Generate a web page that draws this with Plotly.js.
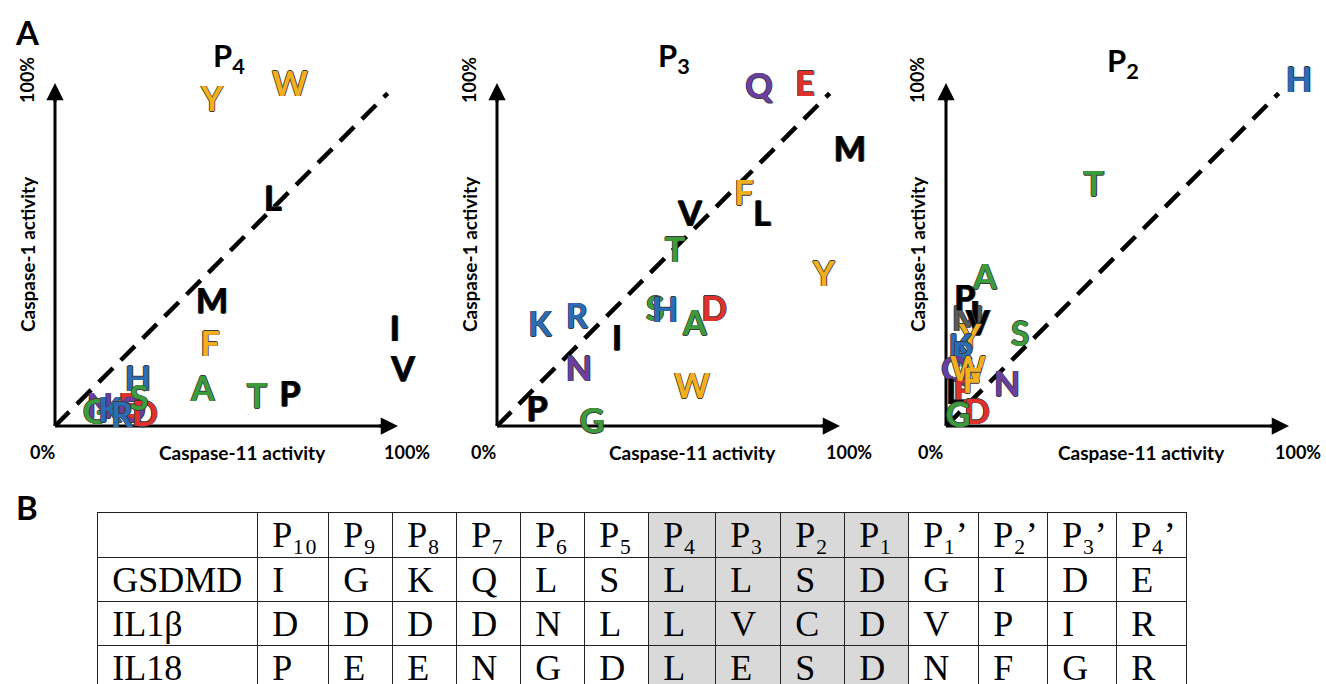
<!DOCTYPE html>
<html><head><meta charset="utf-8">
<script src="https://cdn.plot.ly/plotly-3.0.1.min.js"></script>
<style>html,body{margin:0;padding:0;background:#fff}</style>
</head><body><div id="chart" style="width:1326px;height:684px"></div>
<script>
// ---------- Panel A data (Caspase-11 activity %, Caspase-1 activity %) ----------
const p4Residues = ['Y','W','L','M','F','I','V','H','A','T','P','N','E','Q','G','K','R','D','S'];
const p4Casp11   = [45.8,68.5,63.5,45.8,45.2,99.1,101.5,24.2,43.1,58.9,68.5,13.1,21.3,22.4,11.7,16.0,19.5,26.2,24.5];
const p4Casp1    = [94.2,98.8,65.3,35.3,23.0,27.4,15.5,12.8,9.9,7.6,8.2,4.7,4.7,3.5,3.2,3.5,2.3,2.6,7.0];

const p3Residues = ['Q','E','M','F','L','V','T','Y','S','H','D','A','K','R','I','N','W','P','G'];
const p3Casp11   = [76.4,89.8,102.9,72.0,77.3,56.3,51.9,95.3,46.1,49.0,63.3,57.7,12.5,23.3,35.0,23.9,56.9,11.7,27.7];
const p3Casp1    = [98.0,98.8,79.6,66.8,60.9,60.9,50.4,43.4,33.2,32.9,33.2,28.9,28.6,30.9,24.5,15.7,10.5,3.8,0.3];

const p2Residues = ['H','T','A','M','P','I','V','S','Y','K','R','Q','E','W','F','L','N','D','G'];
const p2Casp11   = [102.9,43.1,11.4,6.4,5.5,8.5,9.3,21.6,7.0,4.1,5.0,2.6,5.0,6.4,7.6,2.6,17.8,9.0,3.5];
const p2Casp1    = [100.0,69.4,42.3,30.3,36.2,31.5,28.9,25.9,25.0,22.0,19.8,15.5,9.0,15.7,12.0,9.0,11.1,3.2,2.3];

const panelTitles = ['P<sub>4</sub>','P<sub>3</sub>','P<sub>2</sub>'];
const xAxisLabel = 'Caspase-11 activity';
const yAxisLabel = 'Caspase-1 activity';
const tickLow = '0%';
const tickHigh = '100%';

// ---------- Panel B data ----------
const rowNames = ['GSDMD','IL1β','IL18'];
const positionLabels = ['P₁₀','P₉','P₈','P₇','P₆','P₅','P₄','P₃','P₂','P₁','P₁’','P₂’','P₃’','P₄’'];
const gsdmdSeq = ['I','G','K','Q','L','S','L','L','S','D','G','I','D','E'];
const il1bSeq  = ['D','D','D','D','N','L','L','V','C','D','V','P','I','R'];
const il18Seq  = ['P','E','E','N','G','D','L','E','S','D','N','F','G','R'];
const highlighted = ['P₄','P₃','P₂','P₁'];

// ---------- styling ----------
const classColor = {
  F:'#f2b01e', W:'#f2b01e', Y:'#f2b01e',
  L:'#000000', M:'#000000', I:'#000000', V:'#000000', P:'#000000',
  A:'#3c9c3c', G:'#3c9c3c', S:'#3c9c3c', T:'#3c9c3c',
  H:'#2a6db5', K:'#2a6db5', R:'#2a6db5',
  D:'#e2312b', E:'#e2312b',
  N:'#6b3fa0', Q:'#6b3fa0'
};
const W = 1326, H = 684;
const px = v => v / W;
const py = v => 1 - v / H;
const scale = 3.43;                 // pixels per percent
const rng = [-5, 108];
const originX = [55, 497, 946], originY = 426;
const yDom = [py(originY - rng[0] * scale), py(originY - rng[1] * scale)];
const xDoms = originX.map(o => [px(o + rng[0] * scale), px(o + rng[1] * scale)]);
const sansFont = 'Lato, "Open Sans", "DejaVu Sans", sans-serif';
const serifFont = '"Liberation Serif", "Times New Roman", "DejaVu Serif", serif';
const outline = '0.8px 0 0 #3a3a3a, -0.8px 0 0 #3a3a3a, 0 0.8px 0 #3a3a3a, 0 -0.8px 0 #3a3a3a';

const panels = [
  {res: p4Residues, x: p4Casp11, y: p4Casp1},
  {res: p3Residues, x: p3Casp11, y: p3Casp1},
  {res: p2Residues, x: p2Casp11, y: p2Casp1, grey: {M: '#5a5a5a'}}
];

const traces = [];
const shapes = [];
const annotations = [];
const layout = {
  width: W, height: H, margin: {l:0, r:0, t:0, b:0},
  paper_bgcolor: '#fff', plot_bgcolor: 'rgba(0,0,0,0)', showlegend: false,
  font: {family: sansFont, color: '#000'}
};

panels.forEach((p, i) => {
  const xa = 'x' + (i ? i + 1 : ''), ya = 'y' + (i ? i + 1 : '');
  const xk = 'xaxis' + (i ? i + 1 : ''), yk = 'yaxis' + (i ? i + 1 : '');
  layout[xk] = {domain: xDoms[i], range: rng, visible: false, fixedrange: true, anchor: ya};
  layout[yk] = {domain: yDom, range: rng, visible: false, fixedrange: true, anchor: xa};

  // diagonal
  shapes.push({type:'line', xref:xa, yref:ya, x0:0, y0:0, x1:97, y1:97, layer:'below',
    line:{color:'#000', width:4.5, dash:'20px,11px'}});
  // axes lines
  shapes.push({type:'line', xref:xa, yref:ya, x0:0, y0:0, x1:97, y1:0, layer:'below', line:{color:'#000', width:3}});
  shapes.push({type:'line', xref:xa, yref:ya, x0:0, y0:0, x1:0, y1:97, layer:'below', line:{color:'#000', width:3}});
  // arrow heads
  annotations.push({xref:xa, yref:ya, axref:xa, ayref:ya, x:100, y:0, ax:94, ay:0, text:'',
    showarrow:true, arrowhead:2, arrowsize:1.15, arrowwidth:3, arrowcolor:'#000'});
  annotations.push({xref:xa, yref:ya, axref:xa, ayref:ya, x:0, y:100, ax:0, ay:94, text:'',
    showarrow:true, arrowhead:2, arrowsize:1.15, arrowwidth:3, arrowcolor:'#000'});

  const colors = p.res.map(r => (p.grey && p.grey[r]) ? p.grey[r] : classColor[r]);
  traces.push({
    type:'scatter', mode:'text', xaxis:xa, yaxis:ya,
    x:p.x, y:p.y, text:p.res, textposition:'middle center', cliponaxis:false,
    textfont:{family:sansFont, size:34, weight:700, color:colors, shadow:outline},
    hoverinfo:'skip'
  });
});

// axis labels (text)
const xLab = [[42, 243, 407], [483, 692, 849], [931, 1141, 1298]];
const yLabX = [27, 469, 917];
const titleX = [229, 674, 1123];
const titleY = [57, 58, 63];
for (let i = 0; i < 3; i++) {
  const f = {family:sansFont, size:19, color:'#000'};
  const fp = {family:sansFont, size:18, color:'#000'};
  annotations.push({xref:'paper', yref:'paper', x:px(xLab[i][0]), y:py(452), text:'<b>'+tickLow+'</b>', showarrow:false, font:fp, xanchor:'center', yanchor:'middle'});
  annotations.push({xref:'paper', yref:'paper', x:px(xLab[i][1]), y:py(452), text:'<b>'+xAxisLabel+'</b>', showarrow:false, font:f, xanchor:'center', yanchor:'middle'});
  annotations.push({xref:'paper', yref:'paper', x:px(xLab[i][2]), y:py(452), text:'<b>'+tickHigh+'</b>', showarrow:false, font:fp, xanchor:'center', yanchor:'middle'});
  annotations.push({xref:'paper', yref:'paper', x:px(yLabX[i]), y:py(80), text:'<b>'+tickHigh+'</b>', textangle:-90, showarrow:false, font:fp, xanchor:'center', yanchor:'middle'});
  annotations.push({xref:'paper', yref:'paper', x:px(yLabX[i]), y:py(254), text:'<b>'+yAxisLabel+'</b>', textangle:-90, showarrow:false, font:f, xanchor:'center', yanchor:'middle'});
  annotations.push({xref:'paper', yref:'paper', x:px(titleX[i]), y:py(titleY[i]), text:'<b>'+panelTitles[i]+'</b>', showarrow:false,
    font:{family:sansFont, size:31, color:'#000'}, xanchor:'center', yanchor:'middle'});
}
annotations.push({xref:'paper', yref:'paper', x:px(27), y:py(32), text:'<b>A</b>', showarrow:false, font:{family:sansFont, size:33, color:'#000'}, xanchor:'center', yanchor:'middle'});
annotations.push({xref:'paper', yref:'paper', x:px(27), y:py(507), text:'<b>B</b>', showarrow:false, font:{family:sansFont, size:33, color:'#000'}, xanchor:'center', yanchor:'middle'});

// ---------- Table ----------
const pad = '\u2009';
const headerVals = [''].concat(positionLabels);
const cellCols = [rowNames].concat(positionLabels.map((_, j) => [gsdmdSeq[j], il1bSeq[j], il18Seq[j]]));
const grey = '#d9d9d9';
const colFill = headerVals.map(h => highlighted.includes(h) ? grey : '#ffffff');
traces.push({
  type:'table',
  domain:{x:[px(97), px(1186)], y:[0, py(512)]},
  columnwidth:[160,71,64,64,64,64,64,67,65,64,64,70,69,69,70],
  header:{values:headerVals.map(v => v ? pad + v : v), align:'left', height:45,
    fill:{color:colFill}, line:{color:'#222', width:1},
    font:{family:serifFont, size:36, color:'#000'}},
  cells:{values:cellCols.map(col => col.map(v => pad + v)), align:'left', height:44,
    fill:{color:colFill}, line:{color:'#222', width:1},
    font:{family:serifFont, size:36, color:'#000'}}
});

layout.shapes = shapes;
layout.annotations = annotations;
Plotly.newPlot('chart', traces, layout, {staticPlot:true, displayModeBar:false});
</script>
</body></html>
